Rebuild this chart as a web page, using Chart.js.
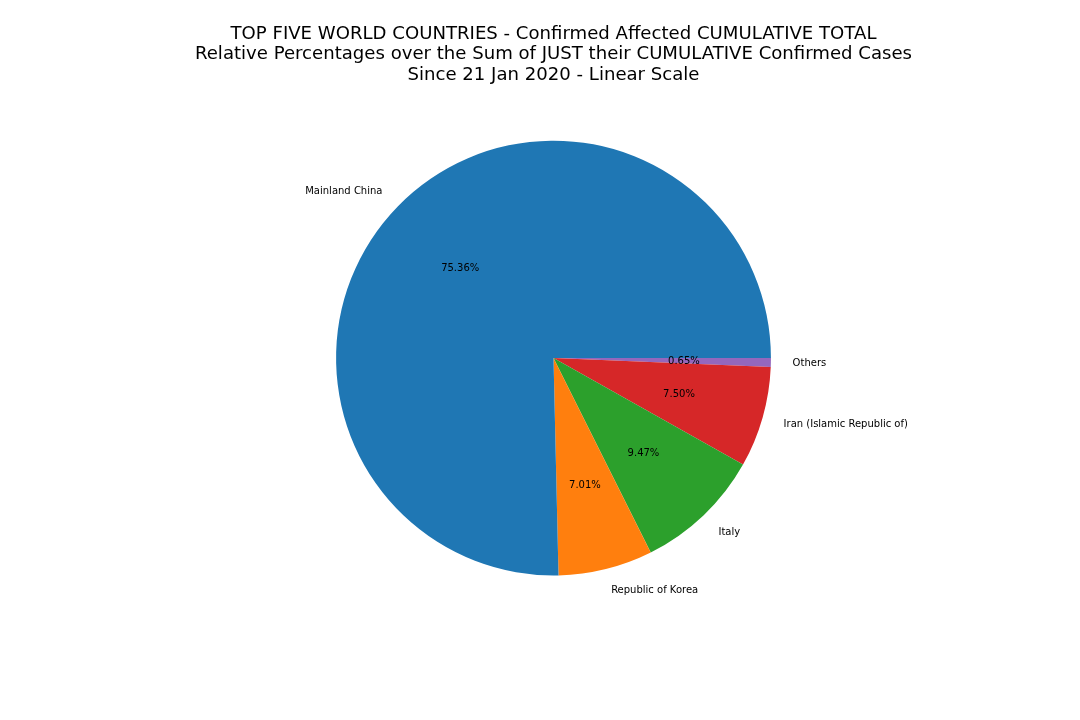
<!DOCTYPE html>
<html>
<head>
<meta charset="utf-8">
<script src="https://cdn.jsdelivr.net/npm/chart.js@4"></script>
<style>
  html, body { margin:0; padding:0; background:#fff; }
  #box { position:relative; width:1080px; height:720px; }
</style>
</head>
<body>
<div id="box"><canvas id="pieChart"></canvas></div>
<script>
// listed clockwise from 3 o'clock, the way Chart.js walks the circle
const labels = ["Others", "Iran (Islamic Republic of)", "Italy", "Republic of Korea", "Mainland China"];
const shares = [0.65, 7.50, 9.47, 7.01, 75.36];
const colors = ["#9467bd", "#d62728", "#2ca02c", "#ff7f0e", "#1f77b4"];
const titleLines = [
  "TOP FIVE WORLD COUNTRIES - Confirmed Affected CUMULATIVE TOTAL",
  "Relative Percentages over the Sum of JUST their CUMULATIVE Confirmed Cases",
  "Since 21 Jan 2020 - Linear Scale"
];

// slice names outside the pie, percentages inside
const sliceText = {
  id: "sliceText",
  afterDatasetsDraw(chart){
    const ctx = chart.ctx;
    ctx.save();
    ctx.font = "10px 'DejaVu Sans'";
    ctx.fillStyle = "#000";
    ctx.textBaseline = "middle";
    chart.getDatasetMeta(0).data.forEach((arc, i) => {
      const mid = (arc.startAngle + arc.endAngle) / 2;
      const r = arc.outerRadius;
      const c = Math.cos(mid), s = Math.sin(mid);
      ctx.textAlign = c >= 0 ? "left" : "right";
      ctx.fillText(labels[i], arc.x + 1.1 * r * c, arc.y + 1.1 * r * s + 0.7);
      ctx.textAlign = "center";
      ctx.fillText(shares[i].toFixed(2) + "%", arc.x + 0.6 * r * c, arc.y + 0.6 * r * s + 1);
    });
    ctx.restore();
  }
};

new Chart(document.getElementById("pieChart"), {
  type: "pie",
  data: {
    labels: labels,
    datasets: [{
      data: shares,
      backgroundColor: colors,
      borderWidth: 0
    }]
  },
  options: {
    responsive: true,
    maintainAspectRatio: false,
    animation: false,
    rotation: 90,
    // left padding moves both the pie and the title centre to x = 553.5
    layout: { padding: { left: 27, right: 0, top: 0, bottom: 144.5 } },
    plugins: {
      legend: { display: false },
      tooltip: { enabled: false },
      title: {
        display: true,
        text: titleLines,
        color: "#000",
        font: { family: "'DejaVu Sans'", size: 18.1, weight: "normal", lineHeight: 1.13 },
        padding: { top: 24, bottom: 55.3 }
      }
    }
  },
  plugins: [sliceText]
});
</script>
</body>
</html>
